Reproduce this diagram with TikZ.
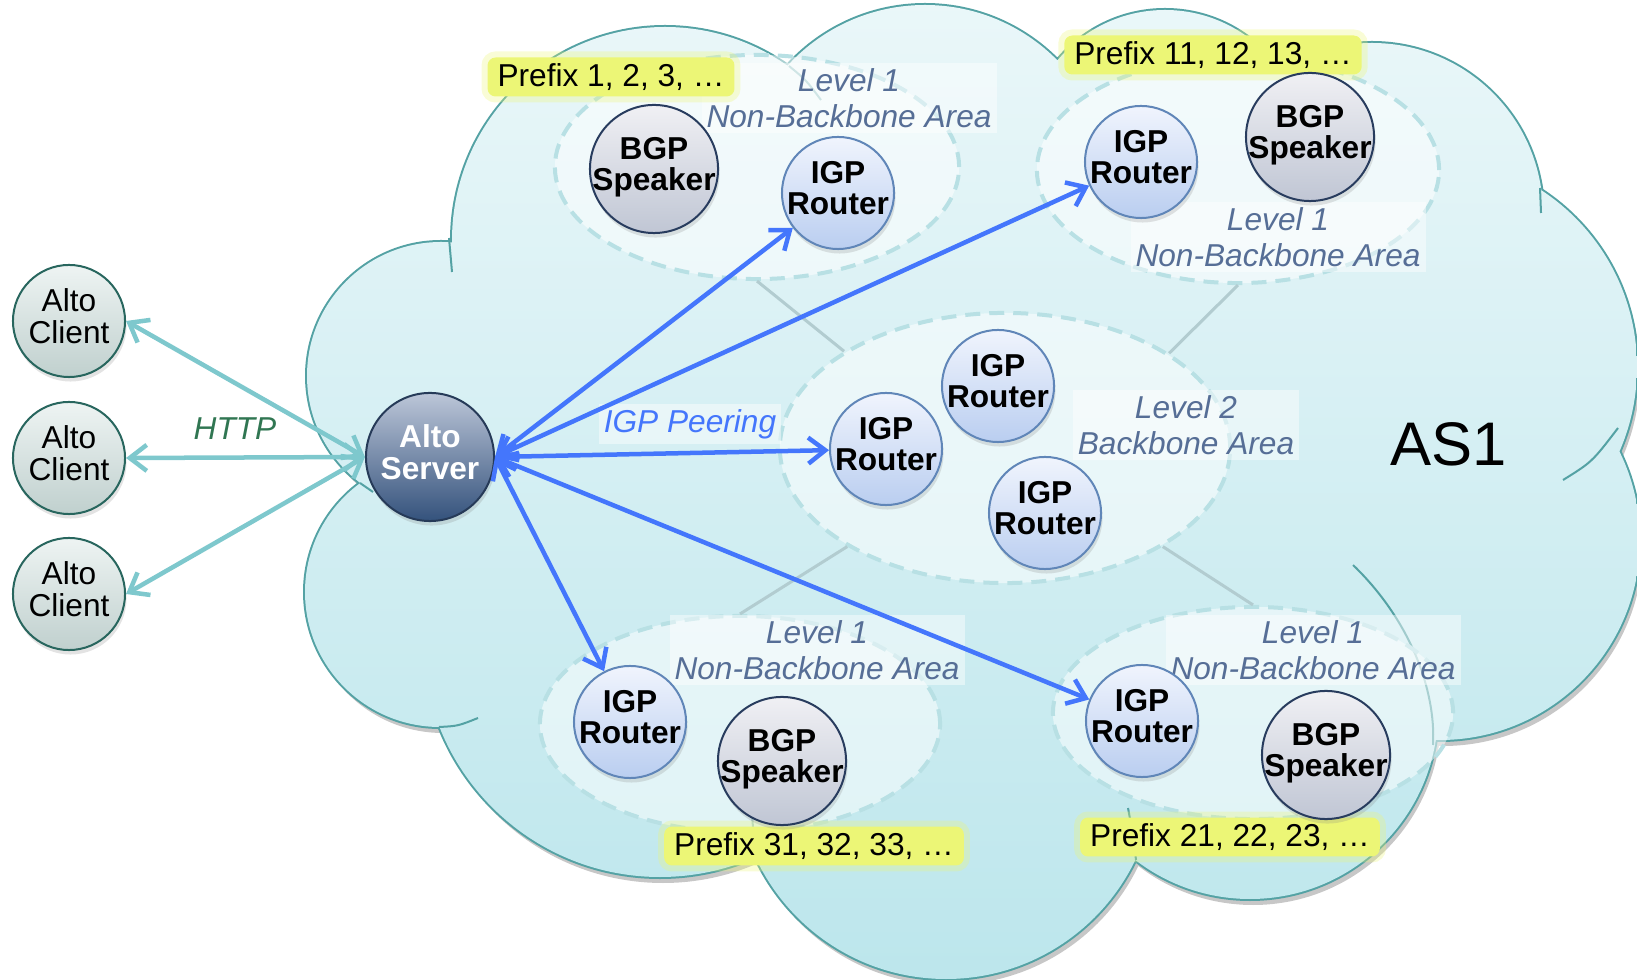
\documentclass[tikz,border=0pt]{standalone}
\usepackage{fontspec}
\setmainfont{Liberation Sans}
\usetikzlibrary{arrows.meta,shapes.geometric,shadows}

\definecolor{cloudtop}{RGB}{234,247,249}
\definecolor{cloudbot}{RGB}{188,230,236}
\definecolor{cloudedge}{RGB}{84,162,164}
\definecolor{areadash}{RGB}{184,224,228}
\definecolor{linkcol}{RGB}{178,204,208}
\definecolor{peerblue}{RGB}{68,118,252}
\definecolor{httpteal}{RGB}{126,200,205}
\definecolor{httpgreen}{RGB}{48,118,82}
\definecolor{levtext}{RGB}{86,110,150}
\definecolor{hlyellow}{RGB}{236,246,118}
\definecolor{clienttop}{RGB}{238,244,243}
\definecolor{clientbot}{RGB}{192,208,206}
\definecolor{clientedge}{RGB}{40,102,94}
\definecolor{servertop}{RGB}{188,198,216}
\definecolor{serverbot}{RGB}{52,82,124}
\definecolor{serveredge}{RGB}{38,58,88}
\definecolor{igptop}{RGB}{240,244,253}
\definecolor{igpbot}{RGB}{186,206,240}
\definecolor{igpedge}{RGB}{96,134,184}
\definecolor{bgptop}{RGB}{240,240,244}
\definecolor{bgpbot}{RGB}{192,198,212}
\definecolor{bgpedge}{RGB}{40,60,94}

\tikzset{
  cloudlobes/.style={insert path={(441,376) circle[radius=134] (665,240) circle[radius=213]
    (925,191) circle[radius=186] (1165,150) circle[radius=140] (1372,214) circle[radius=171]
    (1426,367) circle[radius=211] (1440,540) circle[radius=200] (1250,711) circle[radius=188]
    (946,769) circle[radius=210] (660,640) circle[radius=237] (440,592) circle[radius=135]}},
  cloudfiller/.style={insert path={(940,470) ellipse[x radius=480, y radius=290]}},
  cloudstub/.style={draw=cloudedge, line width=0.02cm},
  area/.style={ellipse, inner sep=0pt, draw=areadash, line width=0.04cm,
    dash pattern=on 0.15cm off 0.09cm, fill=white, fill opacity=0.5},
  arealink/.style={draw=linkcol, line width=0.03cm},
  lev/.style={align=center, text=levtext, font=\fontsize{9}{10.2}\selectfont\itshape,
    fill=white, fill opacity=0.45, text opacity=1, inner sep=0.05cm},
  prefixbox/.style={font=\fontsize{9}{9}\selectfont, fill=hlyellow, rounded corners=0.08cm,
    inner xsep=0.1cm, inner ysep=0.06cm,
    preaction={draw=hlyellow, draw opacity=0.3, line width=0.12cm}},
  pc/.style={circle, inner sep=-2pt, align=center, line width=0.02cm, text depth=2.8pt,
    font=\fontsize{9}{9}\selectfont\bfseries,
    drop shadow={shadow xshift=0.015cm, shadow yshift=-0.045cm, opacity=0.22}},
  client/.style={pc, minimum size=1.12cm, font=\fontsize{9}{9}\selectfont,
    draw=clientedge, top color=clienttop, bottom color=clientbot},
  server/.style={pc, minimum size=1.28cm, text=white, draw=serveredge,
    top color=servertop, bottom color=serverbot},
  igp/.style={pc, minimum size=1.12cm, draw=igpedge, top color=igptop, bottom color=igpbot},
  bgp/.style={pc, minimum size=1.28cm, draw=bgpedge, top color=bgptop, bottom color=bgpbot},
  http/.style={draw=httpteal, line width=0.045cm, >={Straight Barb[length=0.17cm,width=0.26cm]}, <->},
  peer/.style={draw=peerblue, line width=0.045cm, >={Straight Barb[length=0.17cm,width=0.26cm]}, <->},
}

\begin{document}
\begin{tikzpicture}[x=0.01cm, y=-0.01cm]
    \useasboundingbox (0,0) rectangle (1637,980);

    % cloud
    \fill[black!22, shift={(3,6)}, cloudlobes];
    \draw[cloudedge, line width=0.04cm, cloudlobes];
    \begin{scope}
      \clip[cloudlobes, cloudfiller];
      \shade[top color=cloudtop, bottom color=cloudbot] (280,0) rectangle (1640,985);
    \end{scope}
    \draw[cloudstub] (449,238) .. controls (450,255) .. (452,272);
    \draw[cloudstub] (789,66) .. controls (806,80) .. (821,100);
    \draw[cloudstub] (1540,188) .. controls (1541,200) .. (1541,213);
    \draw[cloudstub] (1563,480) .. controls (1592,462) .. (1618,428);
    \draw[cloudstub] (1353,565) .. controls (1410,620) and (1436,690) .. (1433,745);
    \draw[cloudstub] (752,815) .. controls (754,840) .. (758,863);
    \draw[cloudstub] (1128,808) .. controls (1133,835) .. (1136,860);
    \draw[cloudstub] (439,727) .. controls (458,726) .. (478,718);
    \draw[cloudstub] (360,483) .. controls (366,487) .. (373,492);

    % areas
    \node[area, minimum width=4.04cm, minimum height=2.24cm] (nw) at (757,167) {};
    \node[area, minimum width=4.02cm, minimum height=2.26cm] (ne) at (1238,170) {};
    \node[area, minimum width=4.50cm, minimum height=2.70cm] (bb) at (1005,448) {};
    \node[area, minimum width=4.00cm, minimum height=2.16cm] (sw) at (740,724) {};
    \node[area, minimum width=4.00cm, minimum height=2.12cm] (se) at (1253,713) {};

    \draw[arealink] (bb.149) -- (nw.south); \draw[arealink] (bb.30) -- (ne.south);
    \draw[arealink] (bb.212) -- (sw.north); \draw[arealink] (bb.328) -- (se.north);

    % labels
    \node[lev] (lvnw) at (849,98) {Level 1\\Non-Backbone Area};
    \node[lev] (lvne) at (1278,237) {Level 1\\Non-Backbone Area};
    \node[lev] (lvbb) at (1186,425) {Level 2\\Backbone Area};
    \node[lev] (lvsw) at (817,650) {Level 1\\Non-Backbone Area};
    \node[lev] (lvse) at (1313,650) {Level 1\\Non-Backbone Area};

    \node[prefixbox] (pnw) at (611,77) {Prefix 1, 2, 3, …};
    \node[prefixbox] (pne) at (1213,55) {Prefix 11, 12, 13, …};
    \node[prefixbox] (psw) at (814,846) {Prefix 31, 32, 33, …};
    \node[prefixbox] (pse) at (1230,837) {Prefix 21, 22, 23, …};

    \node[lev, text=httpgreen] (http) at (235,429) {HTTP};
    \node[lev, text=peerblue] (peering) at (690,424) {IGP Peering};
    \node[font=\fontsize{17.5}{17.5}\selectfont] (as1) at (1449,444) {AS1};

    % nodes
    \node[client] (cl1) at (69,321) {Alto\\Client};
    \node[client] (cl2) at (69,458) {Alto\\Client};
    \node[client] (cl3) at (69,594) {Alto\\Client};
    \node[server] (srv) at (430,457) {Alto\\Server};

    \node[bgp] (bgpnw) at (654,169) {BGP\\Speaker}; \node[igp] (igpnw) at (838,193) {IGP\\Router};
    \node[igp] (igpne) at (1141,162) {IGP\\Router}; \node[bgp] (bgpne) at (1310,137) {BGP\\Speaker};
    \node[igp] (igpb1) at (886,449) {IGP\\Router}; \node[igp] (igpb2) at (998,386) {IGP\\Router};
    \node[igp] (igpb3) at (1045,513) {IGP\\Router};
    \node[igp] (igpsw) at (630,722) {IGP\\Router}; \node[bgp] (bgpsw) at (782,761) {BGP\\Speaker};
    \node[igp] (igpse) at (1142,721) {IGP\\Router}; \node[bgp] (bgpse) at (1326,755) {BGP\\Speaker};

    % connectors
    \draw[http] (srv.west) -- (cl1.east); \draw[http] (srv.west) -- (cl2.east);
    \draw[http] (srv.west) -- (cl3.east);

    \draw[peer] (srv.east) -- (igpnw); \draw[peer] (srv.east) -- (igpne);
    \draw[peer] (srv.east) -- (igpb1); \draw[peer] (srv.east) -- (igpsw);
    \draw[peer] (srv.east) -- (igpse);
\end{tikzpicture}
\end{document}
